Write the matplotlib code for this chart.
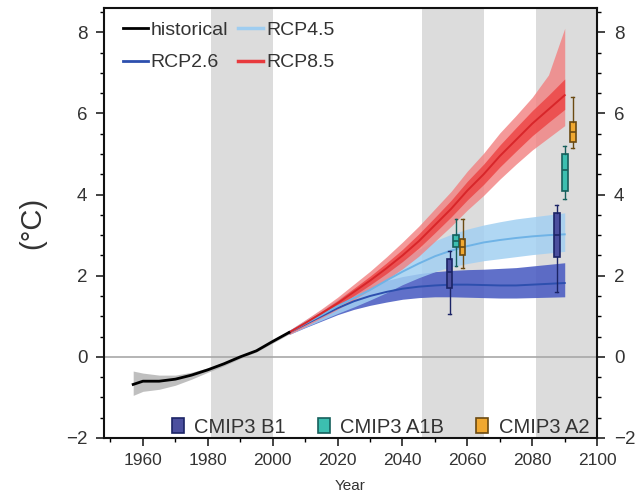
import matplotlib
matplotlib.use("Agg")
import matplotlib.pyplot as plt
from matplotlib.lines import Line2D
from matplotlib.patches import Patch
import numpy as np

plt.rcParams['font.family'] = ['Liberation Sans', 'DejaVu Sans']

# ---------------- data ----------------
hist_years = [1957, 1960, 1965, 1970, 1975, 1980, 1985, 1990, 1995, 2000, 2005]
hist_mean  = [-0.68, -0.60, -0.60, -0.55, -0.45, -0.32, -0.17, 0.00, 0.15, 0.38, 0.60]
hist_low   = [-0.95, -0.85, -0.80, -0.70, -0.55, -0.38, -0.22, -0.04, 0.12, 0.34, 0.56]
hist_high  = [-0.35, -0.40, -0.45, -0.45, -0.38, -0.27, -0.13, 0.04, 0.18, 0.42, 0.64]

rcp_years = [2005, 2010, 2015, 2020, 2025, 2030, 2035, 2040, 2045, 2050,
             2055, 2060, 2065, 2070, 2075, 2080, 2085, 2090]

rcp26_mean = [0.60, 0.80, 1.00, 1.20, 1.37, 1.50, 1.60, 1.68, 1.73, 1.76,
              1.78, 1.78, 1.77, 1.76, 1.76, 1.78, 1.80, 1.82]
rcp26_low  = [0.55, 0.72, 0.88, 1.04, 1.17, 1.27, 1.35, 1.42, 1.46, 1.48,
              1.48, 1.47, 1.46, 1.45, 1.45, 1.46, 1.47, 1.48]
rcp26_high = [0.65, 0.88, 1.12, 1.36, 1.57, 1.74, 1.88, 1.98, 2.05, 2.10,
              2.13, 2.15, 2.16, 2.18, 2.20, 2.24, 2.28, 2.32]

rcp45_mean = [0.60, 0.82, 1.03, 1.25, 1.45, 1.65, 1.88, 2.10, 2.30, 2.48,
              2.62, 2.73, 2.82, 2.88, 2.93, 2.97, 3.00, 3.02]
rcp45_low  = [0.55, 0.73, 0.90, 1.07, 1.23, 1.40, 1.58, 1.78, 1.95, 2.10,
              2.22, 2.30, 2.37, 2.42, 2.47, 2.52, 2.56, 2.60]
rcp45_high = [0.65, 0.91, 1.16, 1.43, 1.68, 1.92, 2.17, 2.42, 2.65, 2.86,
              3.02, 3.15, 3.25, 3.33, 3.40, 3.45, 3.50, 3.55]

rcp85_mean = [0.60, 0.83, 1.07, 1.32, 1.60, 1.88, 2.18, 2.50, 2.85, 3.25,
              3.65, 4.10, 4.50, 4.95, 5.35, 5.75, 6.10, 6.45]
rcp85_low  = [0.55, 0.75, 0.96, 1.17, 1.41, 1.65, 1.90, 2.17, 2.48, 2.85,
              3.22, 3.62, 3.98, 4.38, 4.75, 5.10, 5.40, 5.70]
rcp85_high = [0.65, 0.91, 1.18, 1.47, 1.79, 2.11, 2.46, 2.83, 3.22, 3.65,
              4.08, 4.58, 5.02, 5.52, 5.95, 6.40, 6.95, 8.10]
rcp85_q1   = [0.58, 0.79, 1.02, 1.25, 1.51, 1.77, 2.05, 2.35, 2.68, 3.06,
              3.45, 3.87, 4.25, 4.68, 5.07, 5.45, 5.78, 6.10]
rcp85_q3   = [0.62, 0.87, 1.12, 1.39, 1.69, 1.99, 2.31, 2.65, 3.03, 3.44,
              3.86, 4.33, 4.75, 5.22, 5.65, 6.07, 6.45, 6.85]

period_bands = [(1981, 2000), (2046, 2065), (2081, 2100)]

cmip3_names = ['CMIP3 B1', 'CMIP3 A1B', 'CMIP3 A2']
cmip3_pos_mid = [2054.5, 2056.5, 2058.5]
cmip3_pos_end = [2087.5, 2090.0, 2092.5]
# (whislo, q1, med, q3, whishi)
cmip3_mid = [(1.05, 1.70, 2.10, 2.40, 2.60),
             (2.25, 2.70, 2.85, 3.00, 3.40),
             (2.20, 2.50, 2.70, 2.90, 3.40)]
cmip3_end = [(1.60, 2.45, 3.00, 3.55, 3.75),
             (3.90, 4.10, 4.60, 5.00, 5.20),
             (5.15, 5.30, 5.55, 5.80, 6.40)]

cmip3_face = ['#4b4f9e', '#3cbfb0', '#f0a830']
cmip3_edge = ['#1b2466', '#17605c', '#6b4a12']

# ---------------- figure ----------------
fig = plt.figure(figsize=(6.38, 4.98), dpi=100)
ax = fig.add_axes([0.163, 0.1205, 0.773, 0.8635])

for a, b in period_bands:
    ax.axvspan(a, b, color='#dcdcdc', lw=0, zorder=0)
ax.axhline(0, color='#a8a8a8', lw=1.2, zorder=1)

ax.fill_between(hist_years, hist_low, hist_high, color='#b0b0b0', lw=0, alpha=0.8, zorder=2)
ax.plot(hist_years, hist_mean, color='black', lw=2, zorder=6)

ax.fill_between(rcp_years, rcp26_low, rcp26_high, color='#4a5cc2', lw=0, alpha=0.88, zorder=3)
ax.fill_between(rcp_years, rcp45_low, rcp45_high, color='#a3d0f2', lw=0, alpha=0.85, zorder=3)
ax.fill_between(rcp_years, rcp85_low, rcp85_high, color='#f28080', lw=0, alpha=0.8, zorder=3)
ax.fill_between(rcp_years, rcp85_q1, rcp85_q3, color='#ec3b3b', lw=0, alpha=0.75, zorder=3)
ax.plot(rcp_years, rcp26_mean, color='#2d4fae', lw=1.4, zorder=4)
ax.plot(rcp_years, rcp45_mean, color='#6fb3e6', lw=1.4, zorder=4)
ax.plot(rcp_years, rcp85_mean, color='#d8262a', lw=1.4, zorder=4)

def boxes(pos_list, stats_list):
    for p, s, fc, ec in zip(pos_list, stats_list, cmip3_face, cmip3_edge):
        st = dict(whislo=s[0], q1=s[1], med=s[2], q3=s[3], whishi=s[4], fliers=[])
        ax.bxp([st], positions=[p], widths=1.8, patch_artist=True, showfliers=False,
               boxprops=dict(facecolor=fc, edgecolor=ec, lw=1.2),
               medianprops=dict(color=ec, lw=1.2),
               whiskerprops=dict(color=ec, lw=1.0),
               capprops=dict(color=ec, lw=1.0), manage_ticks=False, zorder=7)

boxes(cmip3_pos_mid, cmip3_mid)
boxes(cmip3_pos_end, cmip3_end)

ax.set_xlim(1948, 2100)
ax.set_ylim(-2, 8.6)
ax.set_xticks(range(1960, 2101, 20))
ax.set_xticks(range(1950, 2101, 10), minor=True)
ax.set_yticks(range(-2, 9, 2))
ax.set_yticks(np.arange(-2, 8.6, 0.5), minor=True)
ax.tick_params(axis='both', which='major', direction='out', length=6, width=1.2,
               labelsize=13.5, colors='#222222', labelcolor='#333333')
ax.tick_params(axis='both', which='minor', direction='out', length=3, width=1)
ax.tick_params(axis='y', which='both', right=True, labelright=True)
ax.tick_params(axis='y', which='major', pad=6)
ax.tick_params(axis='x', labelsize=12.5, pad=5)
for sp in ax.spines.values():
    sp.set_linewidth(1.5)
    sp.set_color('#111111')

ax.set_ylabel('(°C)', fontsize=21, color='#333333', labelpad=14)
ax.set_xlabel('Year', fontsize=11, color='#333333', labelpad=8)

h1 = [Line2D([], [], color='black', lw=2),
      Line2D([], [], color='#2d4fae', lw=2),
      Line2D([], [], color='#9fcdf0', lw=2.5),
      Line2D([], [], color='#e83a3e', lw=2.5)]
leg1 = ax.legend(h1, ['historical', 'RCP2.6', 'RCP4.5', 'RCP8.5'], ncol=2,
                 loc='upper left', bbox_to_anchor=(0.01, 1.0), frameon=False,
                 fontsize=14, handlelength=1.3, handletextpad=0.15,
                 columnspacing=0.5, labelspacing=0.75, borderaxespad=0.3,
                 labelcolor='#333333')
ax.add_artist(leg1)

h2 = [Patch(facecolor=f, edgecolor=e, lw=1.2) for f, e in zip(cmip3_face, cmip3_edge)]
ax.legend(h2, cmip3_names, ncol=3, loc='lower right', bbox_to_anchor=(1.008, -0.025),
          frameon=False, fontsize=14.5, handlelength=0.6, handleheight=0.8,
          handletextpad=0.5, columnspacing=1.6, borderaxespad=0.2,
          labelcolor='#333333')

fig.savefig('out.png', dpi=100)
